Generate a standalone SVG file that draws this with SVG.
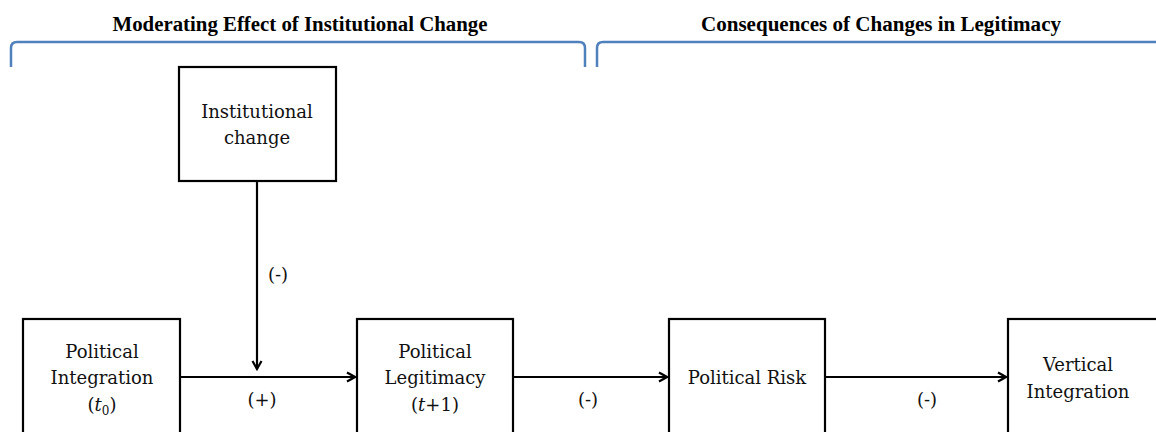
<svg xmlns="http://www.w3.org/2000/svg" width="1156" height="432" viewBox="0 0 1156 432">
<style>
.box{fill:#fff;stroke:#000;stroke-width:2.2}
.t{font-family:"DejaVu Serif","Liberation Serif",serif;font-size:18px;fill:#111;text-anchor:middle}
.h{font-family:"Liberation Serif","DejaVu Serif",serif;font-weight:bold;font-size:20.5px;fill:#000;text-anchor:middle}
.br{fill:none;stroke:#4f81bd;stroke-width:2.5}
.c{fill:none;stroke:#000;stroke-width:2.2}
</style>
<defs>
<marker id="ah" markerWidth="12" markerHeight="12" refX="10" refY="6" orient="auto" markerUnits="userSpaceOnUse">
<path d="M2,1.5 L10,6 L2,10.5" fill="none" stroke="#000" stroke-width="2.2"/>
</marker>
</defs>
<rect width="1156" height="432" fill="#fff"/>
<g id="headers">
<text class="h" x="300" y="31" textLength="375" lengthAdjust="spacingAndGlyphs">Moderating Effect of Institutional Change</text>
<text class="h" x="881" y="31" textLength="360" lengthAdjust="spacingAndGlyphs">Consequences of Changes in Legitimacy</text>
<path class="br" d="M11,67 V48 Q11,42 17,42 H579 Q585,42 585,48 V67"/>
<path class="br" d="M597,67 V48 Q597,42 603,42 H1170"/>
</g>
<g id="n-institutional">
<rect class="box" x="179" y="67" width="157" height="114"/>
<text class="t" x="257" y="118">Institutional</text>
<text class="t" x="257" y="144">change</text>
</g>
<g id="n-integration">
<rect class="box" x="23" y="319" width="157" height="130"/>
<text class="t" x="102" y="358">Political</text>
<text class="t" x="102" y="384">Integration</text>
<text class="t" x="102" y="411">(<tspan font-style="italic">t</tspan><tspan font-size="12" dy="4">0</tspan><tspan dy="-4">)</tspan></text>
</g>
<g id="n-legitimacy">
<rect class="box" x="357" y="319" width="156" height="130"/>
<text class="t" x="435" y="358">Political</text>
<text class="t" x="435" y="384">Legitimacy</text>
<text class="t" x="435" y="411">(<tspan font-style="italic">t</tspan>+1)</text>
</g>
<g id="n-risk">
<rect class="box" x="669" y="319" width="156" height="130"/>
<text class="t" x="747" y="384">Political Risk</text>
</g>
<g id="n-vertical">
<rect class="box" x="1008" y="319" width="170" height="130"/>
<text class="t" x="1078" y="371">Vertical</text>
<text class="t" x="1078" y="398">Integration</text>
</g>
<g id="connectors">
<line class="c" x1="257" y1="181" x2="257" y2="369" marker-end="url(#ah)"/>
<line class="c" x1="180" y1="377" x2="355" y2="377" marker-end="url(#ah)"/>
<line class="c" x1="513" y1="377" x2="667" y2="377" marker-end="url(#ah)"/>
<line class="c" x1="825" y1="377" x2="1006" y2="377" marker-end="url(#ah)"/>
<text class="t" x="278" y="281">(-)</text>
<text class="t" x="262" y="406">(+)</text>
<text class="t" x="588" y="406">(-)</text>
<text class="t" x="927" y="406">(-)</text>
</g>
</svg>
